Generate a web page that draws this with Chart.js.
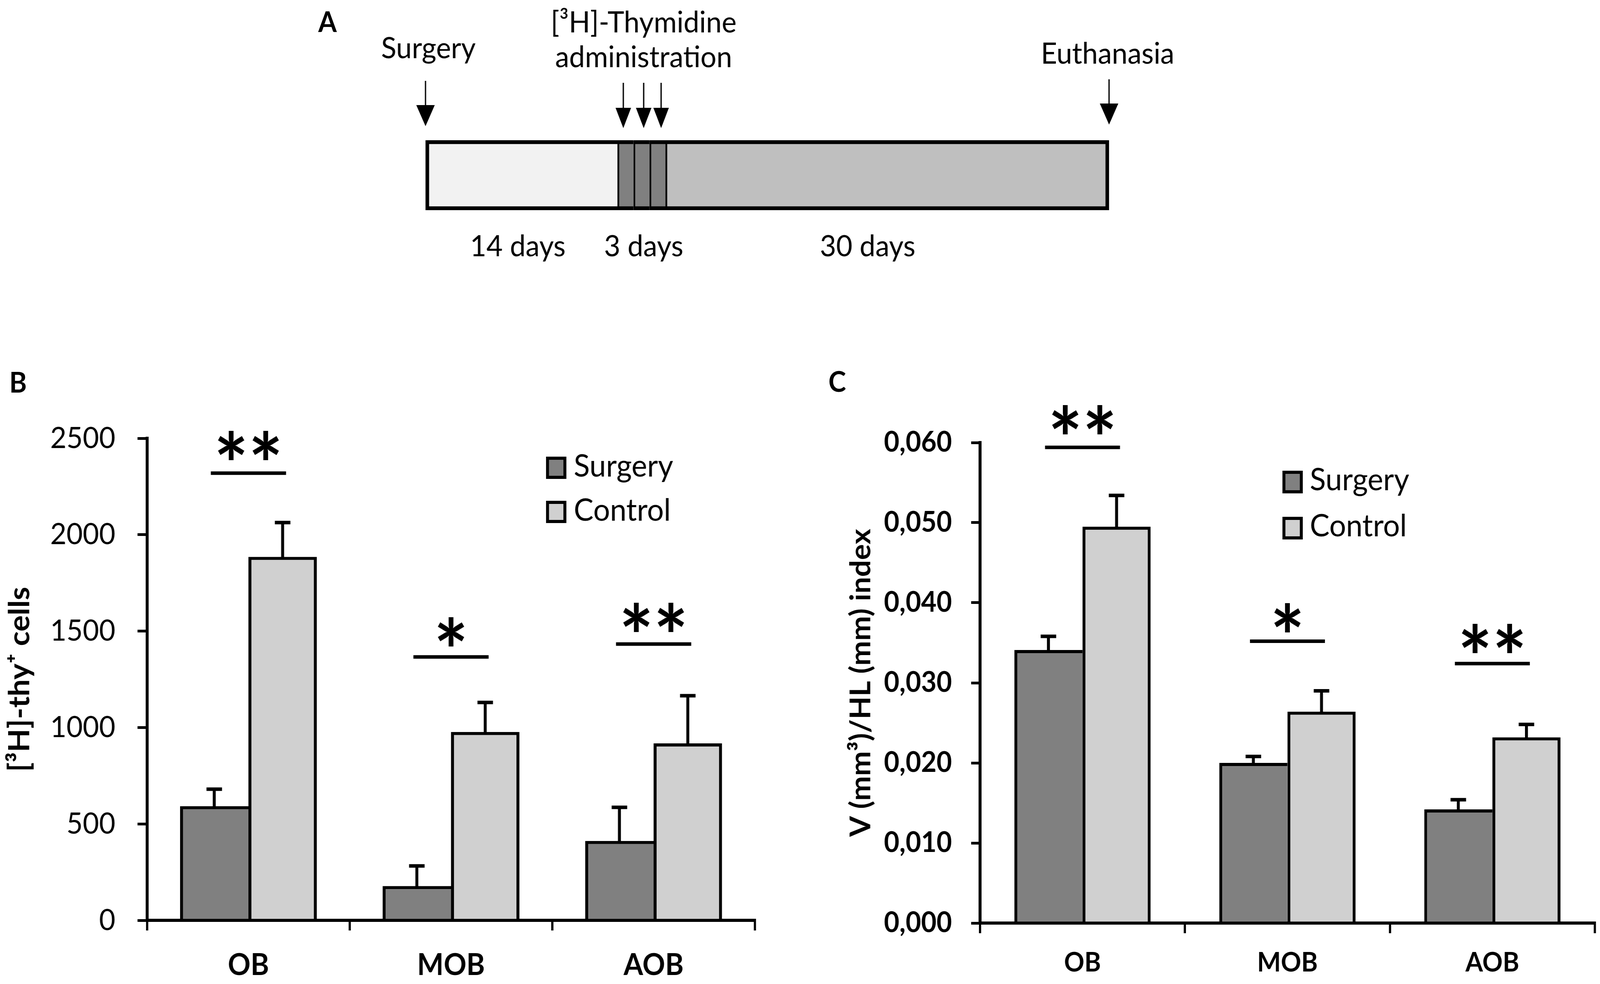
<!DOCTYPE html>
<html>
<head>
<meta charset="utf-8">
<script src="https://cdn.jsdelivr.net/npm/chart.js@4.4.1/dist/chart.umd.min.js"></script>
<style>
html,body{margin:0;padding:0;background:#fff;overflow:hidden;}
#page{position:relative;width:4328px;height:2519px;overflow:hidden;background:#fff;font-family:Lato, sans-serif;color:#000;transform-origin:0 0;}
canvas{position:absolute;}
.panel{position:absolute;font-weight:700;font-size:72px;line-height:1;font-family:Lato, sans-serif;}
</style>
</head>
<body>
<div id="page">
  <div class="panel" style="left:861px;top:18px">A</div>
  <div class="panel" style="left:25px;top:941px">B</div>
  <div class="panel" style="left:2241px;top:939px">C</div>
  <canvas id="cA" width="4328" height="800" style="left:0px;top:0px;width:4328px;height:800px"></canvas>
  <canvas id="cB" width="2150" height="1619" style="left:0px;top:900px;width:2150px;height:1619px"></canvas>
  <canvas id="cC" width="2168" height="1619" style="left:2160px;top:900px;width:2168px;height:1619px"></canvas>
</div>
<script>
// fit the 4328x2519 design onto the actual viewport
(function () {
  const pg = document.getElementById('page');
  const sx = window.innerWidth / 4328, sy = window.innerHeight / 2519;
  if (sx > 0 && sy > 0 && (Math.abs(sx - 1) > 0.001 || Math.abs(sy - 1) > 0.001)) {
    pg.style.transform = 'scale(' + sx + ',' + sy + ')';
  }
})();

// ---------------- DATA ----------------
// Panel A: timeline (lengths in days)
const phaseNames = ['Post-surgery', 'Injection 1', 'Injection 2', 'Injection 3', 'Survival'];
const phaseLengths = [13.2, 1.1, 1.1, 1.1, 30.5];
const arrowDays = [0, 13.6, 15.0, 16.2, 47.0];
const eventLabels = [['Surgery'], ['[³H]-Thymidine', 'administration'], ['Euthanasia']];
const eventLabelDays = [0.2, 15.0, 46.9];
const durationLabels = ['14 days', '3 days', '30 days'];
const durationLabelDays = [6.35, 15.0, 30.4];

// Panels B and C
const categories = ['OB', 'MOB', 'AOB'];
const seriesNames = ['Surgery', 'Control'];

const cellsSurgery = [592, 178, 412];
const cellsSurgeryErr = [88, 104, 174];
const cellsControl = [1885, 977, 918];
const cellsControlErr = [178, 153, 247];
const cellsTicks = [0, 500, 1000, 1500, 2000, 2500];
const cellsTickLabels = ['0', '500', '1000', '1500', '2000', '2500'];
const cellsSigLine = [2319, 1366, 1433];
const cellsSigStar = [2461, 1495, 1570];

const volSurgery = [0.0341, 0.0200, 0.0142];
const volSurgeryErr = [0.0017, 0.0008, 0.0012];
const volControl = [0.0495, 0.0264, 0.0232];
const volControlErr = [0.0039, 0.0026, 0.0016];
const volTicks = [0, 0.01, 0.02, 0.03, 0.04, 0.05, 0.06];
const volTickLabels = ['0,000', '0,010', '0,020', '0,030', '0,040', '0,050', '0,060'];
const volSigLine = [0.0594, 0.0352, 0.0324];
const volSigStar = [0.0628, 0.0381, 0.0355];

const sigMarks = ['**', '*', '**'];

// ---------------- STYLES ----------------
const FONT = 'Lato';
const seriesColors = ['#808080', '#d0d0d0'];
const phaseColors = ['#f2f2f2', '#808080', '#808080', '#808080', '#bfbfbf'];

Chart.defaults.font.family = FONT;
Chart.defaults.color = '#000';

// ---------------- PANEL A ----------------
const timelinePlugin = {
  id: 'timeline',
  afterDraw(chart, args, o) {
    const ctx = chart.ctx, xs = chart.scales.x;
    ctx.save();
    ctx.fillStyle = '#000';
    ctx.strokeStyle = '#000';
    arrowDays.forEach((d, i) => {
      const g = o.arrows[i];
      const x = xs.getPixelForValue(d);
      ctx.lineWidth = 3.5;
      ctx.beginPath();
      ctx.moveTo(x, g.top);
      ctx.lineTo(x, g.tip - g.head + 2);
      ctx.stroke();
      ctx.beginPath();
      ctx.moveTo(x - g.hw, g.tip - g.head);
      ctx.lineTo(x + g.hw, g.tip - g.head);
      ctx.lineTo(x, g.tip);
      ctx.closePath();
      ctx.fill();
    });
    ctx.font = `400 ${o.fontSize}px ${FONT}`;
    ctx.textAlign = 'center';
    ctx.textBaseline = 'alphabetic';
    eventLabels.forEach((lines, i) => {
      const x = xs.getPixelForValue(eventLabelDays[i]);
      lines.forEach((t, j) => ctx.fillText(t, x, o.eventBaselines[i][j]));
    });
    durationLabels.forEach((t, i) => {
      ctx.fillText(t, xs.getPixelForValue(durationLabelDays[i]), o.durationBaseline);
    });
    ctx.restore();
  }
};

const phaseBorders = phaseLengths.map((_, i) => ({
  left: i === 0 ? 10 : 5,
  right: i === phaseLengths.length - 1 ? 10 : 0,
  top: 10,
  bottom: 10
}));

new Chart(document.getElementById('cA'), {
  type: 'bar',
  data: {
    labels: ['Timeline'],
    datasets: phaseLengths.map((v, i) => ({
      label: phaseNames[i],
      data: [v],
      backgroundColor: phaseColors[i],
      borderColor: '#000',
      borderWidth: phaseBorders[i],
      borderSkipped: false,
      barPercentage: 1,
      categoryPercentage: 1
    }))
  },
  options: {
    indexAxis: 'y',
    responsive: false,
    animation: false,
    devicePixelRatio: 1,
    layout: { padding: { left: 1151, right: 1328, top: 359, bottom: 262 } },
    scales: {
      x: { stacked: true, display: false, min: 0, max: 47.0 },
      y: { stacked: true, display: false }
    },
    plugins: {
      legend: { display: false },
      tooltip: { enabled: false },
      timeline: {
        fontSize: 76,
        eventBaselines: [[149], [83, 172], [163]],
        durationBaseline: 656,
        arrows: [
          { top: 207, tip: 323, head: 54, hw: 25 },
          { top: 212, tip: 328, head: 52, hw: 21 },
          { top: 212, tip: 328, head: 52, hw: 21 },
          { top: 212, tip: 328, head: 52, hw: 21 },
          { top: 203, tip: 319, head: 54, hw: 25 }
        ]
      }
    }
  },
  plugins: [timelinePlugin]
});

// ---------------- PANELS B & C ----------------
const annotPlugin = {
  id: 'annot',
  afterDatasetsDraw(chart, args, o) {
    const ctx = chart.ctx, ys = chart.scales.y;
    ctx.save();
    ctx.strokeStyle = '#000';
    ctx.fillStyle = '#000';
    ctx.lineCap = 'butt';
    chart.data.datasets.forEach((ds, di) => {
      const meta = chart.getDatasetMeta(di);
      meta.data.forEach((bar, i) => {
        const top = ys.getPixelForValue(ds.data[i] + ds.errors[i]);
        const x = bar.x;
        ctx.lineWidth = o.lw;
        ctx.beginPath(); ctx.moveTo(x, bar.y + 2); ctx.lineTo(x, top); ctx.stroke();
        ctx.lineWidth = o.capLw;
        ctx.beginPath(); ctx.moveTo(x - o.cap, top); ctx.lineTo(x + o.cap, top); ctx.stroke();
      });
    });
    const m0 = chart.getDatasetMeta(0), m1 = chart.getDatasetMeta(1);
    o.sigLine.forEach((v, i) => {
      const l = m0.data[i].x - m0.data[i].width / 2;
      const r = m1.data[i].x + m1.data[i].width / 2;
      const c = (l + r) / 2, h = (r - l) / 2 * o.lineFrac;
      const py = ys.getPixelForValue(v);
      ctx.lineWidth = o.sigLw;
      ctx.beginPath(); ctx.moveTo(c - h, py); ctx.lineTo(c + h, py); ctx.stroke();
      ctx.font = `700 ${o.starSize}px ${FONT}`;
      ctx.textAlign = 'center';
      ctx.textBaseline = 'alphabetic';
      ctx.fillText(o.marks[i], c, ys.getPixelForValue(o.star[i]) + o.starSize * o.starShift);
    });
    ctx.restore();
  },
  afterDraw(chart, args, o) {
    const ctx = chart.ctx, ca = chart.chartArea, L = o.legend;
    ctx.save();
    chart.data.datasets.forEach((ds, i) => {
      const bx = ca.left + L.dx, by = ca.top + L.dy + i * L.pitch;
      ctx.fillStyle = ds.backgroundColor;
      ctx.fillRect(bx, by, L.w, L.h);
      ctx.strokeStyle = '#000';
      ctx.lineWidth = L.bw;
      ctx.strokeRect(bx + L.bw / 2, by + L.bw / 2, L.w - L.bw, L.h - L.bw);
      ctx.fillStyle = '#000';
      ctx.font = `400 ${L.fontSize}px ${FONT}`;
      ctx.textAlign = 'left';
      ctx.textBaseline = 'alphabetic';
      ctx.fillText(ds.label, ca.left + L.tx, ca.top + L.ty + i * L.pitch);
    });
    ctx.restore();
  }
};

function makeBarChart(canvasId, cfg) {
  return new Chart(document.getElementById(canvasId), {
    type: 'bar',
    data: {
      labels: categories,
      datasets: [
        {
          label: seriesNames[0], data: cfg.s, errors: cfg.se,
          backgroundColor: seriesColors[0], borderColor: '#000',
          borderWidth: { left: 8, right: 0, top: 8, bottom: 0 }, borderSkipped: false,
          barPercentage: 1, categoryPercentage: cfg.catPct
        },
        {
          label: seriesNames[1], data: cfg.c, errors: cfg.ce,
          backgroundColor: seriesColors[1], borderColor: '#000',
          borderWidth: { left: 8, right: 8, top: 8, bottom: 0 }, borderSkipped: false,
          barPercentage: 1, categoryPercentage: cfg.catPct
        }
      ]
    },
    options: {
      responsive: false,
      animation: false,
      devicePixelRatio: 1,
      layout: { padding: cfg.padding },
      scales: {
        x: {
          offset: true,
          afterFit: s => { s.height = cfg.xHeight; },
          ticks: { font: { family: FONT, size: cfg.xFont, weight: '700' }, color: '#000', padding: cfg.xPad, maxRotation: 0, autoSkip: false },
          grid: { offset: true, drawOnChartArea: false, drawTicks: true, tickLength: 26, color: '#000', lineWidth: 6 },
          border: { display: true, color: '#000', width: 8 }
        },
        y: {
          min: cfg.ticks[0], max: cfg.ticks[cfg.ticks.length - 1],
          afterBuildTicks: s => { s.ticks = cfg.ticks.map(v => ({ value: v })); },
          afterFit: s => { s.width = cfg.yWidth; },
          ticks: {
            font: { family: FONT, size: cfg.yFont, weight: cfg.yWeight }, color: '#000', padding: cfg.yPad,
            callback: (v, i) => cfg.tickLabels[i]
          },
          grid: { drawOnChartArea: false, drawTicks: true, tickLength: cfg.yTick, color: '#000', lineWidth: 7 },
          border: { display: true, color: '#000', width: 8 },
          title: {
            display: true, text: cfg.title, color: '#000',
            font: { family: FONT, size: cfg.titleFont, weight: '700' },
            padding: { top: cfg.titlePad, bottom: 0 }
          }
        }
      },
      plugins: {
        legend: { display: false },
        tooltip: { enabled: false },
        annot: {
          lw: 8, capLw: 9, cap: 21, sigLw: 9, lineFrac: 0.55,
          sigLine: cfg.sigLine, star: cfg.sigStar, marks: sigMarks,
          starSize: 220, starShift: 0.585,
          legend: cfg.legend
        }
      }
    },
    plugins: [annotPlugin]
  });
}

makeBarChart('cB', {
  s: cellsSurgery, se: cellsSurgeryErr, c: cellsControl, ce: cellsControlErr,
  ticks: cellsTicks, tickLabels: cellsTickLabels,
  sigLine: cellsSigLine, sigStar: cellsSigStar,
  title: '[³H]-thy⁺ cells',
  catPct: 0.675,
  padding: { left: 0, top: 222, right: 108, bottom: 0 },
  xHeight: 163, xFont: 76, xPad: 44,
  yWidth: 398, yFont: 76, yWeight: '400', yPad: 60, yTick: 26,
  titleFont: 78, titlePad: 7,
  legend: { dx: 1079, dy: 47, pitch: 113, w: 55, h: 57, bw: 8, fontSize: 80, tx: 1154, ty: 98 }
});

makeBarChart('cC', {
  s: volSurgery, se: volSurgeryErr, c: volControl, ce: volControlErr,
  ticks: volTicks, tickLabels: volTickLabels,
  sigLine: volSigLine, sigStar: volSigStar,
  title: 'V (mm³)/HL (mm) index',
  catPct: 0.665,
  padding: { left: 0, top: 233, right: 14, bottom: 0 },
  xHeight: 156, xFont: 68, xPad: 35,
  yWidth: 491, yFont: 72, yWeight: '700', yPad: 52, yTick: 24,
  titleFont: 76, titlePad: 124,
  legend: { dx: 818, dy: 72, pitch: 118, w: 55, h: 58, bw: 8, fontSize: 80, tx: 892, ty: 122 }
});
</script>
</body>
</html>
